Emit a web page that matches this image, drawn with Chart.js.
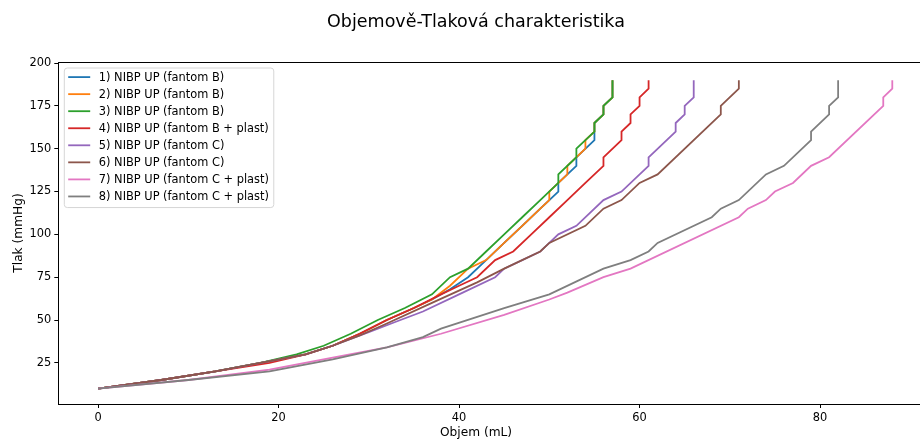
<!DOCTYPE html>
<html>
<head>
<meta charset="utf-8">
<title>Objemově-Tlaková charakteristika</title>
<script src="https://cdn.jsdelivr.net/npm/chart.js@4"></script>
<style>
    html, body { margin: 0; padding: 0; background: #fff; overflow: hidden; }
    #wrap { width: 932px; height: 442px; }
</style>
</head>
<body>
<div id="wrap"><canvas id="graf" width="932" height="442"></canvas></div>
<script>
// Měření: [objem mL, tlak mmHg]
const labels = [
    '1) NIBP UP (fantom B)',
    '2) NIBP UP (fantom B)',
    '3) NIBP UP (fantom B)',
    '4) NIBP UP (fantom B + plast)',
    '5) NIBP UP (fantom C)',
    '6) NIBP UP (fantom C)',
    '7) NIBP UP (fantom C + plast)',
    '8) NIBP UP (fantom C + plast)'
];

const mereni1 = [[0,10],[7,15],[13,20],[18,25],[23,30],[26,35],[29,42],[32,50],[35,57],[37,62],[39,68],[41,75],[43,85],[45,95],[47,105],[49,115],[51,125],[51,130],[53,140],[53,145],[55,155],[55,160],[55,165],[56,170],[56,175],[57,180],[57,190]];
const mereni2 = [[0,10],[7,15],[13,20],[18,25],[23,30],[26,35],[29,42],[32,50],[35,57],[37,62],[39,70],[41,80],[43,85],[45,95],[47,105],[49,115],[50,120],[50,125],[52,135],[52,140],[54,150],[54,155],[55,160],[55,165],[56,170],[56,175],[57,180],[57,190]];
const mereni3 = [[0,10],[7,15],[13,20],[18,25],[22,30],[25,35],[28,42],[31,50],[34,57],[37,65],[39,75],[41,80],[43,90],[45,100],[47,110],[49,120],[51,130],[51,135],[53,145],[53,150],[55,160],[55,165],[56,170],[56,175],[57,180],[57,190]];
const mereni4 = [[0,10],[7,15],[13,20],[19,25],[23,30],[26,35],[29,42],[32,50],[35,57],[38,65],[40,70],[42,75],[44,85],[46,90],[48,100],[50,110],[52,120],[54,130],[56,140],[56,145],[58,155],[58,160],[59,165],[59,170],[60,175],[60,180],[61,185],[61,190]];
const mereni5 = [[0,10],[7,15],[13,20],[18,25],[23,30],[26,35],[30,43],[33,49],[36,55],[40,65],[44,75],[45,80],[47,85],[49,90],[50,95],[51,100],[53,105],[56,120],[58,125],[61,140],[61,145],[64,160],[64,165],[65,170],[65,175],[66,180],[66,190]];
const mereni6 = [[0,10],[7,15],[13,20],[18,25],[23,30],[26,35],[29,41],[32,48],[37,60],[42,72],[45,80],[49,90],[50,95],[54,105],[56,115],[58,120],[60,130],[62,135],[69,170],[69,175],[71,185],[71,190]];
const mereni7 = [[0,10],[10,15],[19,21],[26,28],[32,34],[38,42],[45,53],[50,62],[52,66],[56,75],[59,80],[71,110],[72,115],[74,120],[75,125],[77,130],[79,140],[81,145],[87,175],[87,180],[88,185],[88,190]];
const mereni8 = [[0,10],[10,15],[19,20],[26,27],[32,34],[36,40],[38,45],[45,57],[50,65],[56,80],[59,85],[61,90],[62,95],[68,110],[69,115],[71,120],[74,135],[76,140],[79,155],[79,160],[81,170],[81,175],[82,180],[82,190]];

const xTicks = [0, 20, 40, 60, 80];
const yTicks = [25, 50, 75, 100, 125, 150, 175, 200];

const title = 'Objemově-Tlaková charakteristika';
const xLabel = 'Objem (mL)';
const yLabel = 'Tlak (mmHg)';

const series = [mereni1, mereni2, mereni3, mereni4, mereni5, mereni6, mereni7, mereni8];
const colors = ['#1f77b4', '#ff7f0e', '#2ca02c', '#d62728', '#9467bd', '#8c564b', '#e377c2', '#7f7f7f'];

const FONT = '"DejaVu Sans", sans-serif';
const TEXT = '#000';

// rámeček kolem plochy grafu, nadpis a popisek osy x
const ramecekPlugin = {
    id: 'ramecek',
    afterDraw(chart) {
        const { ctx, chartArea: a } = chart;
        ctx.save();
        ctx.strokeStyle = '#000';
        ctx.lineWidth = 1;
        ctx.strokeRect(Math.round(a.left) + 0.5, Math.round(a.top) + 0.5,
            Math.round(a.right - a.left), Math.round(a.bottom - a.top));

        ctx.fillStyle = TEXT;
        ctx.textAlign = 'center';
        ctx.textBaseline = 'middle';
        ctx.font = '17.5px ' + FONT;
        ctx.fillText(title, 476, 22);
        ctx.font = '12.2px ' + FONT;
        ctx.fillText(xLabel, 476, 433);
        ctx.restore();
    }
};

// legenda vlevo nahoře uvnitř grafu
const legendaPlugin = {
    id: 'legenda',
    afterDraw(chart) {
        const { ctx, chartArea: a } = chart;
        const fs = 11.4;
        const sets = chart.data.datasets;
        ctx.save();
        ctx.font = fs + 'px ' + FONT;
        const textW = Math.max(...sets.map(d => ctx.measureText(d.label).width));
        const x0 = a.left + 5.5;
        const y0 = a.top + 5.5;
        const rowH = 17.05;
        const w = 4.4 + 22 + 8.6 + textW + 4.4;
        const h = 9.6 + rowH * (sets.length - 1) + 10.6;

        ctx.beginPath();
        if (ctx.roundRect) ctx.roundRect(x0 + 0.5, y0 + 0.5, w, h, 3);
        else ctx.rect(x0 + 0.5, y0 + 0.5, w, h);
        ctx.fillStyle = 'rgba(255,255,255,0.8)';
        ctx.fill();
        ctx.strokeStyle = '#d6d6d6';
        ctx.lineWidth = 1;
        ctx.stroke();

        ctx.textBaseline = 'middle';
        ctx.textAlign = 'left';
        sets.forEach((d, i) => {
            const cy = y0 + 9.6 + i * rowH;
            ctx.beginPath();
            ctx.moveTo(x0 + 4.4, cy);
            ctx.lineTo(x0 + 4.4 + 22, cy);
            ctx.strokeStyle = d.borderColor;
            ctx.lineWidth = 1.8;
            ctx.stroke();
            ctx.fillStyle = TEXT;
            ctx.fillText(d.label, x0 + 4.4 + 22 + 8.6, cy + 0.5);
        });
        ctx.restore();
    }
};

const datasets = series.map((s, i) => ({
    label: labels[i],
    data: s.map(p => ({ x: p[0], y: p[1] })),
    borderColor: colors[i],
    backgroundColor: colors[i],
    borderWidth: 1.8,
    pointRadius: 0,
    tension: 0,
    fill: false,
    order: series.length - 1 - i
}));

new Chart(document.getElementById('graf'), {
    type: 'line',
    data: { datasets: datasets },
    options: {
        responsive: false,
        animation: false,
        devicePixelRatio: 1,
        layout: { padding: { left: 0, right: 0, top: 62, bottom: 0 } },
        plugins: {
            legend: { display: false },
            tooltip: { enabled: false },
            title: { display: false }
        },
        scales: {
            x: {
                type: 'linear',
                min: -4.4,
                max: 92.4,
                afterBuildTicks: s => { s.ticks = xTicks.map(v => ({ value: v })); },
                afterFit: s => { s.height = 38; },
                grid: { drawOnChartArea: false, drawTicks: true, tickLength: 4, color: '#000' },
                border: { display: true, color: '#000' },
                ticks: { color: TEXT, font: { family: FONT, size: 11.4 }, padding: 3, maxRotation: 0 }
            },
            y: {
                min: 1,
                max: 200.6,
                afterBuildTicks: s => { s.ticks = yTicks.map(v => ({ value: v })); },
                afterFit: s => { s.width = 58.3; },
                grid: { drawOnChartArea: false, drawTicks: true, tickLength: 4, color: '#000' },
                border: { display: true, color: '#000' },
                ticks: { color: TEXT, font: { family: FONT, size: 11.4 }, padding: 3 },
                title: {
                    display: true,
                    text: yLabel,
                    color: TEXT,
                    font: { family: FONT, size: 12.2, lineHeight: 1.2 },
                    padding: { top: 12, bottom: 0 }
                }
            }
        }
    },
    plugins: [ramecekPlugin, legendaPlugin]
});
</script>
</body>
</html>
